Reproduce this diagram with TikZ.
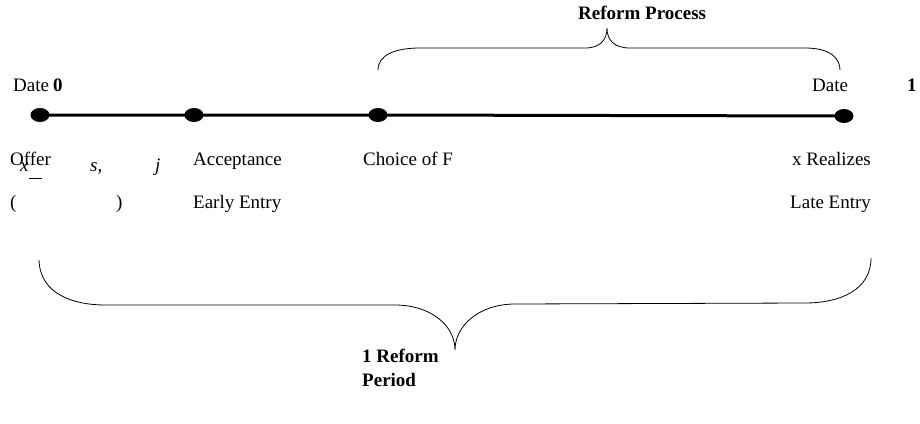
\documentclass[tikz,border=0pt]{standalone}
\usepackage{fontspec}
\setmainfont{Liberation Serif}
\usetikzlibrary{shapes.geometric}
\begin{document}
\begin{tikzpicture}[x=1pt,y=-1pt,
  lbl/.style={anchor=base west,inner sep=0pt,font=\fontsize{19}{22}\selectfont},
  blbl/.style={lbl,font=\fontsize{19}{22}\selectfont\bfseries},
  dot/.style={ellipse,fill=black,minimum width=19pt,minimum height=14pt,inner sep=0pt},
  brace/.style={draw=black,line width=0.8pt}]
\useasboundingbox (0,0) rectangle (920,423);
% timeline dots
\node[dot] (d0) at (40,115) {};
\node[dot] (d1) at (194,115) {};
\node[dot] (d2) at (378,115) {};
\node[dot] (d3) at (844,116) {};
\draw[line width=3pt] (d0.center) -- (d1.center) -- (d2.center) -- (d3.center);
% date labels
\node[lbl] (date0) at (13,91) {Date};
\node[blbl] (zero) at (53,91) {0};
\node[lbl] (date1) at (812,91) {Date};
\node[blbl] (one) at (907,91) {1};
% top brace
\draw[brace] (378,70) .. controls (378,55) and (395,48) .. (420,48) -- (585,48)
  .. controls (600,48) and (607,40) .. (607,28)
  .. controls (607,40) and (614,48) .. (630,48) -- (805,48)
  .. controls (830,48) and (840,58) .. (840,70);
\node[blbl] (rp) at (578,19) {Reform Process};
% labels under timeline
\node[lbl] (offer) at (10,165) {Offer};
\node[lbl] (xv) at (20,171) {\itshape x};
\node[inner sep=0pt] (bar) at (35.5,178) {\rule{13pt}{1pt}};
\node[lbl] (sv) at (90,171) {\itshape s,};
\node[lbl] (jv) at (155,171) {\itshape j};
\node[lbl] (lp) at (10,208) {(};
\node[lbl] (rpar) at (116,208) {)};
\node[lbl] (acc) at (193,165) {Acceptance};
\node[lbl] (early) at (193,208) {Early Entry};
\node[lbl] (choice) at (363,165) {Choice of F};
\node[lbl] (xr) at (792,165) {x Realizes};
\node[lbl] (late) at (790,208) {Late Entry};
% bottom brace
\draw[brace] (39,260) .. controls (40,295) and (75,305) .. (105,305) -- (395,305)
  .. controls (430,305) and (455,325) .. (455,350)
  .. controls (455,325) and (480,304) .. (515,304) -- (805,303)
  .. controls (840,303) and (871,290) .. (871,258);
\node[blbl] (rf) at (362,362) {1 Reform};
\node[blbl] (per) at (362,386) {Period};
\end{tikzpicture}
\end{document}
